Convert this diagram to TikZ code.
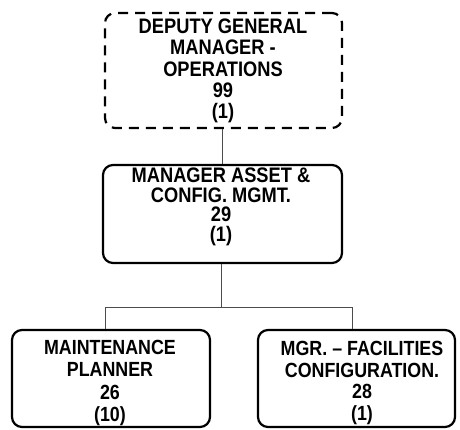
\documentclass[tikz,border=0pt]{standalone}
\usepackage{fontspec}
\setmainfont{Liberation Sans}
\newfontfamily\condfont[FakeStretch=0.87]{Liberation Sans}
\begin{document}
\begin{tikzpicture}[x=1pt,y=-1pt,
  box/.style={draw=black, line width=2.2pt, rounded corners=10pt},
  dbox/.style={box, dashed, dash pattern=on 10pt off 7pt},
  txt/.style={align=center, inner sep=0pt},
  conn/.style={draw=black!70, line width=0.9pt}]
\useasboundingbox (0,0) rectangle (460,429);
% boxes
\node[dbox, minimum width=237pt, minimum height=115pt] (dgm) at (223.5,70.5) {};
\node[box, minimum width=239pt, minimum height=98pt] (mac) at (222.5,214) {};
\node[box, minimum width=198pt, minimum height=97pt] (mp) at (111,378.5) {};
\node[box, minimum width=197pt, minimum height=97pt] (fc) at (356.5,378.5) {};
% texts
\node[txt, font=\condfont\bfseries\fontsize{21}{21.3}\selectfont] (tdgm) at (223,71)
  {DEPUTY GENERAL\\MANAGER -\\OPERATIONS\\99\\(1)};
\node[txt, font=\condfont\bfseries\fontsize{21}{19.5}\selectfont] (tmac) at (221,207)
  {MANAGER ASSET \&\\CONFIG. MGMT.\\29\\(1)};
\node[txt, font=\condfont\bfseries\fontsize{20.5}{22.2}\selectfont] (tmp) at (110,383)
  {MAINTENANCE\\PLANNER\\26\\(10)};
\node[txt, font=\condfont\bfseries\fontsize{20.5}{21.8}\selectfont] (tfc) at (362,383)
  {MGR. – FACILITIES\\CONFIGURATION.\\28\\(1)};
% connectors
\coordinate (bus) at (221,307);
\draw[conn] (dgm.south -| 222,0) -- (mac.north -| 222,0);
\draw[conn] (mac.south -| bus) -- (bus);
\draw[conn] (mp.north -| 105,0) -- (105,307) -- (352,307) -- (fc.north -| 352,0);
\end{tikzpicture}
\end{document}
